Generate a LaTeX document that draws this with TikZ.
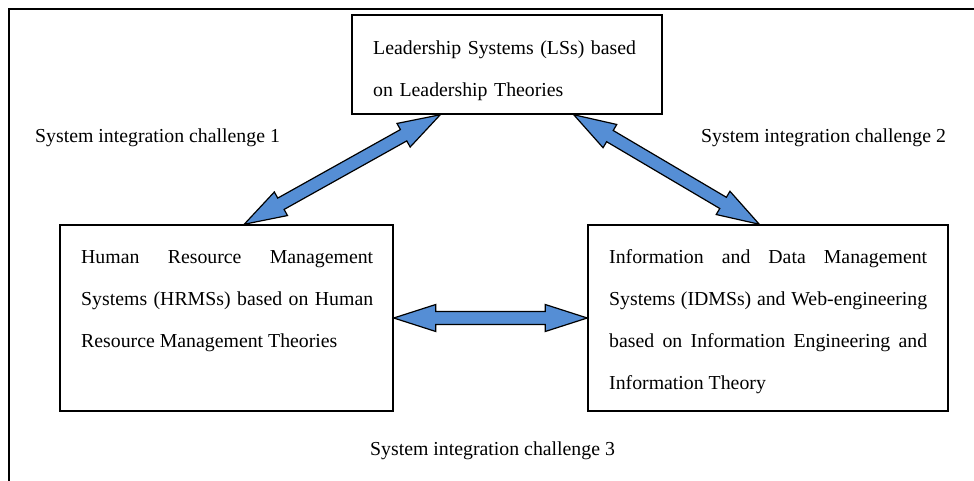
\documentclass[tikz,border=0pt]{standalone}
\usepackage{fontspec}
\setmainfont{Liberation Serif}
\usetikzlibrary{calc}
\definecolor{arrowblue}{HTML}{558ED5}
\tikzset{
  boxnode/.style={draw=black, line width=1.5pt, rectangle, inner sep=0pt},
  txt/.style={anchor=base west, inner sep=0pt, font=\fontsize{19.8}{42}\selectfont},
  arrowbody/.style={draw=black, line width=1.2pt, fill=arrowblue, line join=miter},
  frameline/.style={draw=black, line width=1.3pt}
}
\newcommand\blkarrow[2]{%
  \coordinate (ha) at ($(#1)!42pt!(#2)$);
  \coordinate (hb) at ($(#2)!42pt!(#1)$);
  \draw[arrowbody] (#1) -- ($(ha)!13.5pt!90:(#2)$) -- ($(ha)!6.5pt!90:(#2)$)
    -- ($(hb)!6.5pt!-90:(#1)$) -- ($(hb)!13.5pt!-90:(#1)$) -- (#2)
    -- ($(hb)!13.5pt!90:(#1)$) -- ($(hb)!6.5pt!90:(#1)$)
    -- ($(ha)!6.5pt!-90:(#2)$) -- ($(ha)!13.5pt!-90:(#2)$) -- cycle;}
\begin{document}
\begin{tikzpicture}[x=1pt, y=-1pt]
\useasboundingbox (0,0) rectangle (974,481);
% outer frame
\draw[frameline] (9,481) -- (9,9) -- (974,9);
% boxes
\node[boxnode, minimum width=310pt, minimum height=99pt] (ls) at (507,64.5) {};
\node[boxnode, minimum width=333pt, minimum height=186pt] (hr) at (226.5,318) {};
\node[boxnode, minimum width=360pt, minimum height=186pt] (id) at (768,318) {};
% box texts
\node[txt, text width=280pt, align=left] (lstxt) at (373,55)
  {Leadership Systems (LSs) based\\on Leadership Theories};
\node[txt, text width=292pt, align=justify] (hrtxt) at (81,263)
  {Human Resource Management\linebreak Systems (HRMSs) based on Human\linebreak Resource Management Theories};
\node[txt, text width=318pt, align=justify] (idtxt) at (609,263)
  {Information and Data Management\linebreak Systems (IDMSs) and Web-engineering\linebreak based on Information Engineering and\linebreak Information Theory};
% labels
\node[txt] (c1) at (35,143) {System integration challenge 1};
\node[txt] (c2) at (701,143) {System integration challenge 2};
\node[txt] (c3) at (370,455) {System integration challenge 3};
% arrows
\coordinate (a1s) at ($(ls.south west)+(89,0)$);
\coordinate (a1e) at ($(hr.north west)+(185,0)$);
\coordinate (a2s) at ($(ls.south east)+(-89,0)$);
\coordinate (a2e) at ($(id.north west)+(172,0)$);
\blkarrow{a1s}{a1e}
\blkarrow{a2s}{a2e}
\blkarrow{hr.east}{id.west}
\end{tikzpicture}
\end{document}
